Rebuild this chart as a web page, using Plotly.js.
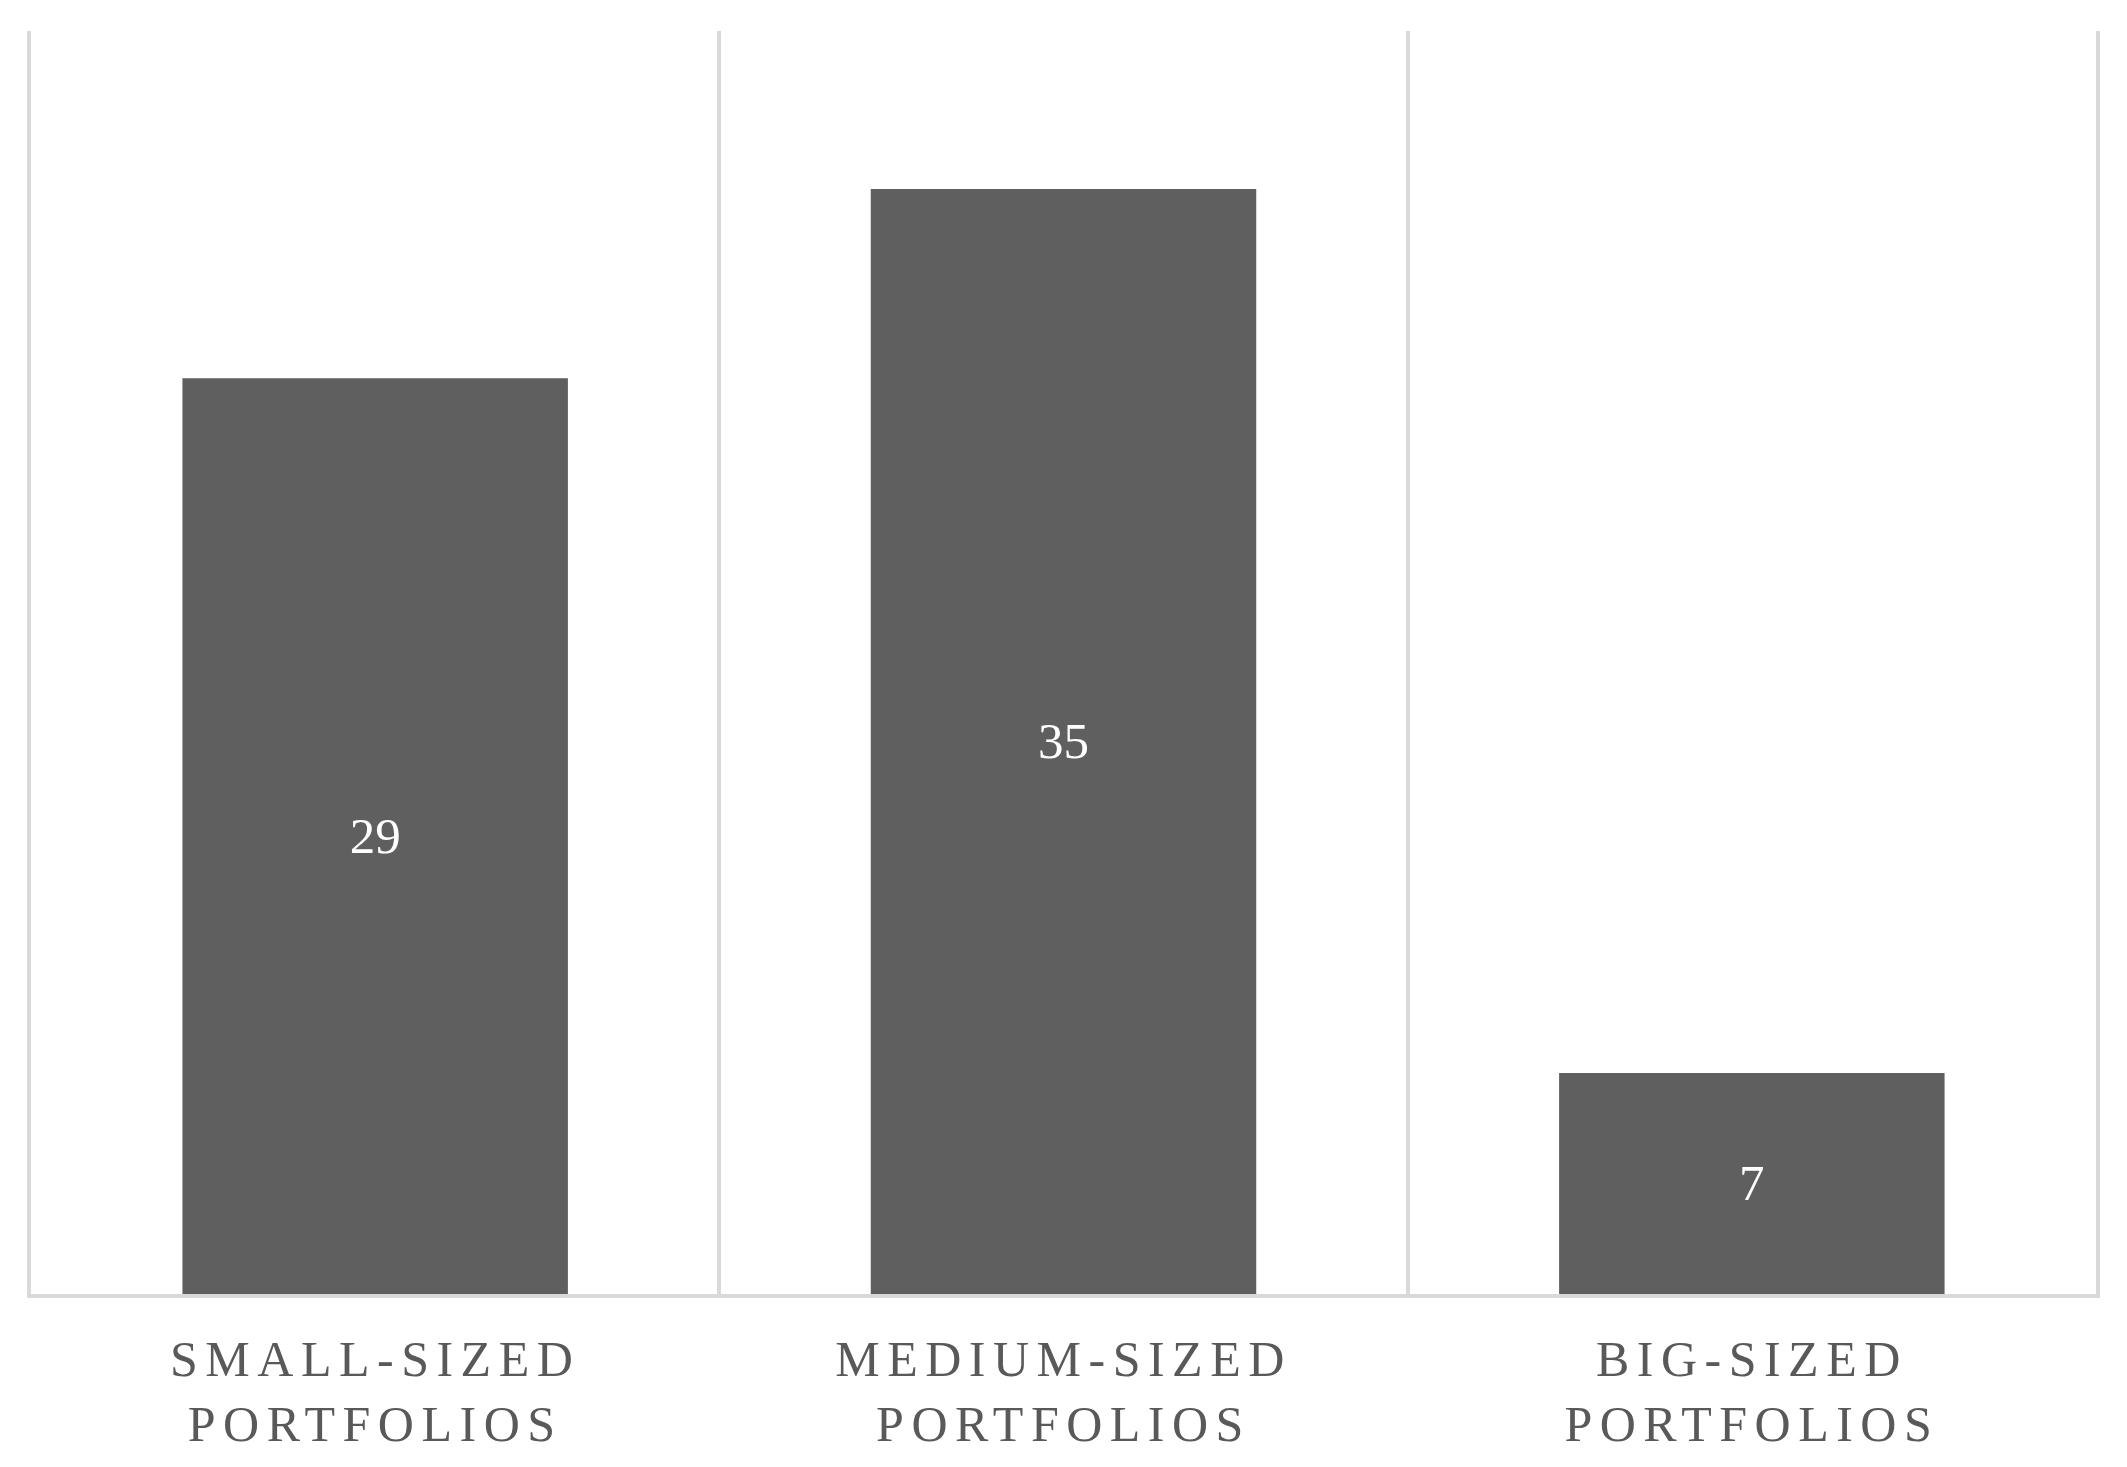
<!DOCTYPE html>
<html><head><meta charset="utf-8">
<script src="https://cdn.plot.ly/plotly-3.0.1.min.js"></script>
<style>
html,body{margin:0;padding:0;background:#fff;}
.xtick text{letter-spacing:7.5px;}
</style></head>
<body><div id="chart" style="width:2127px;height:1467px;"></div>
<script>
const categories = ["SMALL-SIZED<br>PORTFOLIOS", "MEDIUM-SIZED<br>PORTFOLIOS", "BIG-SIZED<br>PORTFOLIOS"];
const values = [29, 35, 7];
const valueLabels = values.map(v => String(v));

const gridColor = '#d9d9d9';
const trace = {
  type: 'bar',
  x: categories,
  y: values,
  text: valueLabels,
  textposition: 'inside',
  insidetextanchor: 'middle',
  textangle: 0,
  constraintext: 'none',
  textfont: {family: 'Liberation Serif, Times New Roman, serif', size: 51, color: '#ffffff'},
  marker: {color: '#5f5f5f', line: {width: 0}},
  hoverinfo: 'none'
};
const layout = {
  width: 2127, height: 1467,
  margin: {l: 31, r: 31, t: 31, b: 173, pad: 0},
  paper_bgcolor: '#ffffff', plot_bgcolor: '#ffffff',
  bargap: 0.44,
  showlegend: false,
  xaxis: {
    type: 'category',
    tickson: 'boundaries',
    showgrid: true, gridcolor: gridColor, gridwidth: 4,
    showline: true, linecolor: gridColor, linewidth: 4,
    ticks: '', zeroline: false,
    tickfont: {family: 'Liberation Serif, Times New Roman, serif', size: 50, color: '#595959'},
    ticklabelstandoff: 18,
    fixedrange: true
  },
  yaxis: {
    range: [0, 40],
    showgrid: false, zeroline: false, showticklabels: false, ticks: '',
    showline: true, mirror: true, linecolor: gridColor, linewidth: 4,
    fixedrange: true
  }
};
Plotly.newPlot('chart', [trace], layout, {displayModeBar: false, staticPlot: true});
</script>
</body></html>
